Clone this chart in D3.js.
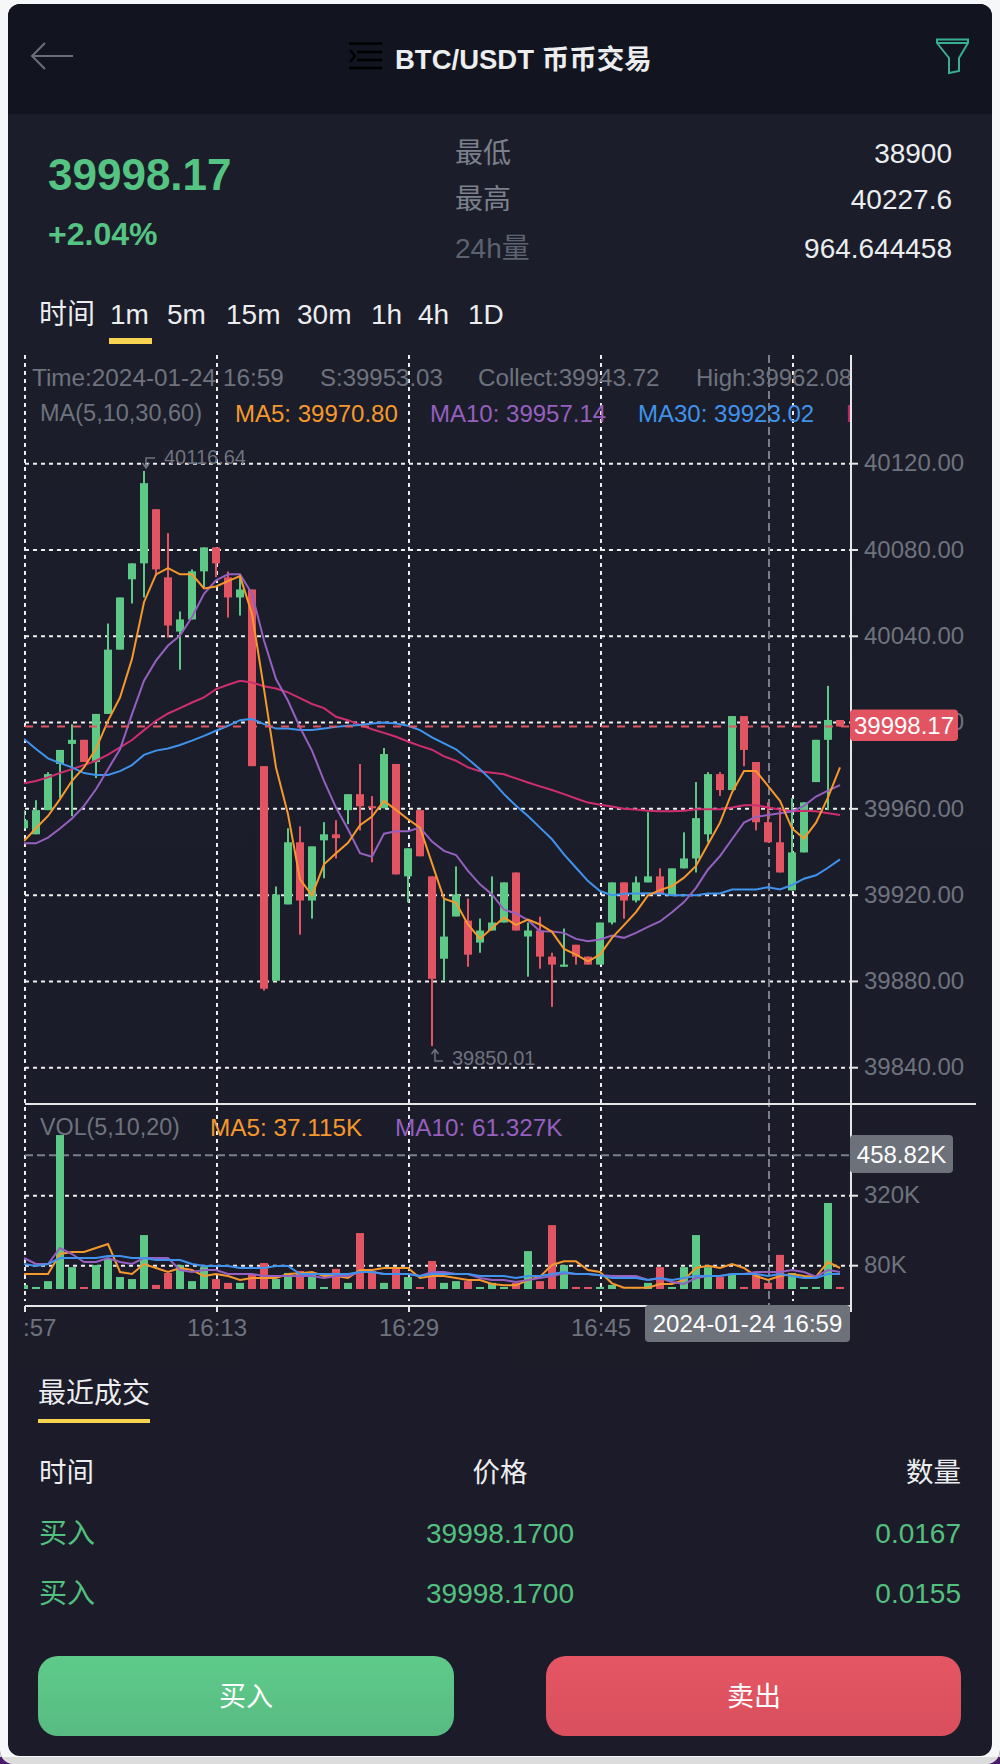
<!DOCTYPE html>
<html>
<head>
<meta charset="utf-8">
<script src="https://cdn.jsdelivr.net/npm/d3@7"></script>
<style>
  html, body { margin: 0; padding: 0; background: #f6f7f9; }
  svg { display: block; }
  text { font-family: "Liberation Sans", "Noto Sans CJK SC", sans-serif; }
  .axis path.domain { display: none; }
</style>
</head>
<body>
<div id="chart"></div>
<script>
// candles (one per minute, from 15:57)
const opens = [39951,39948.2,39959.4,39980.8,39990.1,39992,39981.7,40004,40033.8,40066.4,40073.8,40098.9,40067.3,40042.2,40047.8,40070.1,40081.2,40067.3,40058,40061.7,39979.8,39880.3,39915.7,39944.5,39917.5,39945.4,39948.2,39959.4,39966.8,39961.2,39960.3,39980.8,39928.7,39959.4,39928.7,39890.5,39910.1,39908.2,39898,39903.6,39907.3,39930.5,39900.8,39903.6,39891.5,39886.8,39897,39891.5,39887.8,39907.3,39925.9,39917.5,39925.9,39928.7,39920.3,39932.4,39937,39948.2,39976.1,39968.7,40003,39981.7,39953.8,39944.5,39922.2,39939.8,39972.4,39992,40001.2];
const closes = [39954.7,39959.4,39976.1,39987.3,39992,39981.7,40004,40033.8,40058,40073.8,40111,40071,40045,40047.8,40070.1,40081.2,40073.8,40058,40061.7,39979.8,39876.6,39920.3,39944.5,39917.5,39942.6,39948.2,39946.4,39966.8,39961.2,39960.3,39985.4,39929.6,39941.7,39938,39881.2,39900.8,39920.3,39892.4,39903.6,39907.3,39925.9,39903.6,39903.6,39891.5,39887.8,39887.8,39891.5,39887.8,39907.3,39925.9,39917.5,39925.9,39928.7,39920.3,39932.4,39937,39955.7,39976.1,39968.7,40003,39987.3,39953.8,39944.5,39930.5,39939.8,39963,39992,40001.2,39998.17];
const highs = [39959.4,39964,39977,39987.3,39999.2,39992,40004,40045.9,40058,40073.8,40116.64,40098.9,40087.8,40051.5,40071,40081.2,40081.2,40070,40068.2,40061.7,39979.8,39924,39951,39951.9,39942.6,39953.8,39954.7,39966.8,39980.8,39965.9,39988.2,39980.8,39941.7,39959.4,39928.7,39918,39933.3,39918.4,39909.1,39928.7,39925.9,39930.5,39907.3,39910,39893.3,39904.5,39897,39891.5,39907.3,39925.9,39925.9,39928.7,39958.4,39932.4,39932.4,39949.1,39972.4,39977,39977,40003,40003,39981.7,39963,39959.4,39965,39963,39992,40017,40001.2];
const lows = [39951,39948.2,39959.4,39965,39956.6,39981.7,39974.3,40004,40033.8,40055.2,40058,40068,40039.4,40024.5,40047.8,40062.6,40067.4,40048.7,40049.6,39979.8,39875.7,39880.3,39915.7,39901.7,39909.1,39927.8,39937,39952.9,39950,39935.2,39960.3,39929.6,39916.6,39938,39850.01,39880.3,39910.1,39886.8,39893.3,39903.6,39907.3,39903.6,39882.2,39885.9,39868.2,39886.8,39887.8,39887.8,39887.8,39906.4,39909.1,39916.6,39925.9,39920.3,39920.3,39932.4,39930.5,39944.5,39966,39968.7,39979.8,39950,39944.5,39930.5,39922.2,39939.8,39972.4,39959.4,39998.17];

// price moving averages
const ma5 = [39945.1,39951,39956.7,39964.5,39973,39979.2,39987.8,40000.8,40011.6,40029.5,40055.8,40068.7,40071.6,40068.7,40068.7,40062.2,40063.1,40065.6,40067.9,40050.4,40015.5,39979.2,39957.5,39927.3,39919.9,39934.3,39939.4,39944.3,39952.4,39956.4,39963.7,39959.5,39955.2,39951.3,39934.7,39918.3,39916.4,39906.4,39899.7,39904.8,39909.6,39906.2,39908.7,39906.4,39903,39895.1,39892.4,39889.3,39892.4,39900.2,39906.1,39912.1,39919.9,39922.3,39924.2,39928.1,39933.5,39943.6,39953.6,39967.6,39977.5,39977.5,39970.7,39963.7,39950.9,39946.2,39953.6,39965.3,39979.2];
const ma10 = [39944,39944,39946.7,39950.9,39955.5,39961.4,39969.1,39978.4,39987.6,40003.9,40019.4,40028.7,40035.7,40040.3,40048.9,40059.7,40065.9,40068.7,40068.7,40059.7,40038,40020.2,40010.1,39997.7,39987,39973,39960.6,39950.5,39939.4,39937.8,39948.5,39949.6,39949.6,39951.3,39944.8,39940.5,39938.6,39931.2,39925,39920.3,39913.3,39911.5,39908.4,39903.3,39903.1,39902.5,39899.7,39898.6,39899.4,39901.3,39900.2,39902.5,39905.3,39907.8,39912.1,39916.8,39923.4,39931.9,39938.1,39945.9,39953.6,39956.3,39957.1,39958,39958.8,39961.4,39965.7,39968.4,39971];
const ma30 = [39992.4,39987.7,39983.4,39981.2,39979.2,39976.6,39975.7,39975.7,39977.5,39980.3,39985,39987,39988,39989.6,39991.6,39993.8,39996.2,39998.5,40001.1,40001.7,39999.3,39997.2,39997.2,39996.5,39996.5,39997.2,39998,39998.5,39998.9,39999.6,40000,39999.6,39998.5,39996.5,39993.1,39990.3,39987.6,39983.1,39978.4,39973,39966.8,39961.4,39956.7,39951.3,39945.9,39938.9,39932.7,39926.5,39921.9,39920,39920.6,39920.8,39920.9,39920.8,39920,39919.9,39919.9,39920.8,39920.8,39922.6,39922.6,39922.6,39923.7,39922.6,39924.7,39927.6,39929.2,39932.7,39936.6];
const ma60 = [39971.9,39972.9,39974.6,39976.6,39978.4,39980.3,39982.3,39985.1,39988.5,39991.9,39996.5,40000.8,40004.2,40006.7,40009.3,40011.7,40015.5,40017.5,40019.4,40018.6,40016.8,40015.8,40014,40011.3,40008.6,40006.7,40002.7,40001.1,39998.9,39996.9,39995.2,39993.4,39991.2,39989.2,39987.4,39984.3,39982.3,39979.2,39977.4,39976.7,39976,39974.1,39972.2,39970.4,39968.7,39966.8,39964.8,39962.9,39961.9,39961.1,39960,39959.7,39959.1,39958.9,39958.9,39959.1,39959.8,39959.8,39959.8,39960.6,39961.7,39961.7,39960.6,39959.7,39958.9,39959.1,39958.9,39958,39957.1];

// volume in K, and its moving averages
const volumes = [13.7,7,27,528,75,7,82,103,41,34,185,14,55,82,27,75,34,21,21,48,89,34,55,62,48,7,69,21,192,62,21,75,41,7,96,21,27,27,7,21,7,21,130,27,219,82,7,7,7,14,1,1,21,75,7,75,185,75,41,48,7,48,21,117,55,7,7,295,7];
const volMa5 = [51.4,51.4,51.4,120,126.9,126.9,140.6,154.3,58.3,51.4,85.7,72,58.3,72,65.1,44.6,51.4,44.6,30.9,37.7,37.7,37.7,51.4,53.7,58.3,44.6,44.6,37.7,65.1,65.1,72,72,72,37.7,44.6,44.6,37.7,30.9,30.9,17.1,12.6,12.6,30.9,42.3,82.3,94.9,94.9,65.1,58.3,19.4,4.6,4.6,4.6,17.1,17.1,30.9,72,80,72,85.7,72,44.6,30.9,44.6,51.4,44.6,42.3,92.6,72];
const volMa10 = [106.3,85.7,85.7,140.6,120,92.6,92.6,106.3,92.6,85.7,106.3,106.3,106.3,65.1,58.3,65.1,65.1,51.4,51.4,51.4,44.6,44.6,44.6,44.6,44.6,37.7,44.6,44.6,58.3,58.3,51.4,51.4,51.4,44.6,58.3,58.3,51.4,51.4,37.7,30.9,30.9,24,30.9,37.7,44.6,53.7,51.4,51.4,46.9,44.6,44.6,44.6,30.9,37.7,24,17.1,37.7,44.6,44.6,51.4,51.4,58.3,58.3,58.3,65.1,58.3,42.3,65.1,58.3];
const volMa20 = [85.7,78.9,85.7,106.3,106.3,106.3,106.3,113.1,113.1,106.3,106.3,99.4,99.4,99.4,85.7,78.9,78.9,78.9,72,72,72,78.9,78.9,51.4,51.4,51.4,51.4,51.4,58.3,58.3,51.4,51.4,51.4,44.6,51.4,51.4,51.4,51.4,44.6,44.6,44.6,37.7,44.6,44.6,51.4,58.3,51.4,51.4,46.9,37.7,37.7,37.7,30.9,37.7,30.9,37.7,44.6,44.6,44.6,51.4,51.4,51.4,44.6,51.4,44.6,37.7,37.7,51.4,51.4];

// ticks
const priceTicks = [40120, 40080, 40040, 40000, 39960, 39920, 39880, 39840];
const volTicks = [320, 80];
const timeTickIdx = [0, 16, 32, 48, 64];
const timeTickLabels = [":57", "16:13", "16:29", "16:45"];

const lastPrice = 39998.17;
const crosshairIdx = 62;
const crosshairVol = 458.82;

// text panels
const statLabels = ["最低", "最高", "24h量"];
const statValues = ["38900", "40227.6", "964.644458"];
const periods = ["时间", "1m", "5m", "15m", "30m", "1h", "4h", "1D"];
const tradeHead = ["时间", "价格", "数量"];
const tradeRows = [["买入", "39998.1700", "0.0167"], ["买入", "39998.1700", "0.0155"]];

const GREEN = "#5ec887", RED = "#e25461", GREY = "#6e737e", WHITE = "#ecedef", TEXT_GREEN = "#55c382";
const YELLOW = "#f8d34f", ORANGE = "#f5982d", PURPLE = "#9560bf", BLUE = "#3f93ec", PINK = "#cf2e6e";

const svg = d3.select("#chart").append("svg").attr("width", 1000).attr("height", 1764);

const defs = svg.append("defs");
defs.append("clipPath").attr("id", "plot").append("rect")
  .attr("x", 24).attr("y", 355).attr("width", 827).attr("height", 951);
defs.append("clipPath").attr("id", "legend").append("rect")
  .attr("x", 0).attr("y", 355).attr("width", 850).attr("height", 100);
function gradient(id, a, b) {
  const g = defs.append("linearGradient").attr("id", id).attr("x1", 0).attr("x2", 0).attr("y1", 0).attr("y2", 1);
  g.append("stop").attr("offset", "0%").attr("stop-color", a);
  g.append("stop").attr("offset", "100%").attr("stop-color", b);
}
gradient("buyFill", "#5ecb8a", "#58bb82");
gradient("sellFill", "#e55664", "#d94f5d");
gradient("cardFill", "#1b1e2a", "#1c1b29");

// window corners, page and card
svg.append("rect").attr("y", 1740).attr("width", 1000).attr("height", 24).attr("fill", "#4a1a6e");
svg.append("rect").attr("x", 0).attr("y", -30).attr("width", 1000).attr("height", 1794).attr("rx", 14).attr("fill", "#f6f7f9");
svg.append("path").attr("d", "M0,1757H1000V1750a14,14 0 0 1 -14,14H14a14,14 0 0 1 -14,-14Z").attr("fill", "#dcdcdc");
svg.append("rect").attr("x", 8).attr("y", 4).attr("width", 984).attr("height", 1752).attr("rx", 12).attr("fill", "url(#cardFill)");
svg.append("path").attr("d", "M8,114V16a12,12 0 0 1 12,-12H980a12,12 0 0 1 12,12V114Z").attr("fill", "#12151f");

function label(t, x, y, size, fill, anchor, weight) {
  return svg.append("text").attr("x", x).attr("y", y).attr("dy", "0.36em")
    .attr("font-size", size).attr("fill", fill)
    .attr("text-anchor", anchor || "start").attr("font-weight", weight || "normal").text(t);
}

// header icons
svg.append("path").attr("d", "M73,56H33M45,43L32,56L45,69").attr("fill", "none").attr("stroke", "#6a6e78").attr("stroke-width", 2);
svg.append("path").attr("d", "M349,43.5H382M349,68H382M357,52H382M357,60H382M350,50L355,56L350,62")
  .attr("fill", "none").attr("stroke", "#000").attr("stroke-width", 2.5);
svg.append("path").attr("d", "M937,39.5H968V43L959,58V71L949,73V58L937,43ZM937,43H968")
  .attr("fill", "none").attr("stroke", "#3aae95").attr("stroke-width", 2);
label("BTC/USDT 币币交易", 395, 59, 27.5, WHITE, "start", "bold");

// price block
label("39998.17", 48, 174, 44, TEXT_GREEN, "start", "bold");
label("+2.04%", 48, 233, 32, TEXT_GREEN, "start", "bold");
const statY = [153, 199, 248];
statLabels.forEach((t, i) => label(t, 455, statY[i], 28, i === 2 ? "#5d6270" : "#7b808c"));
statValues.forEach((t, i) => label(t, 952, statY[i], 28, WHITE, "end"));

// period tabs
const periodX = [39, 110, 167, 226, 297, 371, 418, 468];
periods.forEach((t, i) => label(t, periodX[i], 314, 28, WHITE));
svg.append("rect").attr("x", 109).attr("y", 338).attr("width", 43).attr("height", 6).attr("fill", YELLOW);

// scales
const x = d3.scaleLinear().domain([0, opens.length - 1]).range([24, 840]);
const y = d3.scaleLinear().domain([39840, 40120]).range([1067.7, 463.7]);
const yVol = d3.scaleLinear().domain([0, 320]).range([1289, 1195.7]);

// grid
const grid = svg.append("g").attr("fill", "none").attr("stroke", "#eeeeee").attr("stroke-width", 2).attr("stroke-dasharray", "4 4");
grid.selectAll("line.v").data(timeTickIdx).join("line").attr("class", "v")
  .attr("x1", d => x(d) + 1).attr("x2", d => x(d) + 1).attr("y1", 355).attr("y2", 1301);
grid.selectAll("line.h").data(priceTicks).join("line").attr("class", "h")
  .attr("x1", 25).attr("x2", 851).attr("y1", d => y(d)).attr("y2", d => y(d));
grid.selectAll("line.hv").data(volTicks).join("line").attr("class", "hv")
  .attr("x1", 25).attr("x2", 851).attr("y1", d => yVol(d)).attr("y2", d => yVol(d));

// crosshair (grey dashes, behind the marks)
svg.append("line").attr("x1", x(crosshairIdx) + 1).attr("x2", x(crosshairIdx) + 1).attr("y1", 355).attr("y2", 1306)
  .attr("stroke", "#7a7f8b").attr("stroke-width", 2).attr("stroke-dasharray", "8 4");
svg.append("line").attr("x1", 25).attr("x2", 851).attr("y1", yVol(crosshairVol)).attr("y2", yVol(crosshairVol))
  .attr("stroke", "#7a7f8b").attr("stroke-width", 2).attr("stroke-dasharray", "8 4");

const idx = d3.range(opens.length);
const isUp = i => closes[i] >= opens[i];
const plot = svg.append("g").attr("clip-path", "url(#plot)");

// candles
plot.selectAll("rect.wick").data(idx).join("rect").attr("class", "wick")
  .attr("x", i => x(i) - 1).attr("width", 2)
  .attr("y", i => y(highs[i])).attr("height", i => y(lows[i]) - y(highs[i]))
  .attr("fill", i => isUp(i) ? GREEN : RED);
plot.selectAll("rect.body").data(idx).join("rect").attr("class", "body")
  .attr("x", i => x(i) - 4).attr("width", 8)
  .attr("y", i => y(Math.max(opens[i], closes[i])))
  .attr("height", i => Math.max(2, Math.abs(y(opens[i]) - y(closes[i]))))
  .attr("fill", i => isUp(i) ? GREEN : RED);

// volume bars
plot.selectAll("rect.vol").data(idx).join("rect").attr("class", "vol")
  .attr("x", i => x(i) - 4).attr("width", 8)
  .attr("y", i => yVol(volumes[i])).attr("height", i => yVol(0) - yVol(volumes[i]))
  .attr("fill", i => isUp(i) ? GREEN : RED);

// moving average lines
const priceLine = d3.line().x((d, i) => x(i)).y(d => y(d));
const volLine = d3.line().x((d, i) => x(i)).y(d => yVol(d));
[[ma60, PINK], [ma30, BLUE], [ma10, PURPLE], [ma5, ORANGE]].forEach(([s, c]) => {
  plot.append("path").attr("d", priceLine(s)).attr("fill", "none").attr("stroke", c).attr("stroke-width", 2);
});
[[volMa5, ORANGE], [volMa10, PURPLE], [volMa20, BLUE]].forEach(([s, c]) => {
  plot.append("path").attr("d", volLine(s)).attr("fill", "none").attr("stroke", c).attr("stroke-width", 2);
});

// last price line
svg.append("line").attr("x1", 25).attr("x2", 851).attr("y1", y(lastPrice)).attr("y2", y(lastPrice))
  .attr("stroke", RED).attr("stroke-width", 2).attr("stroke-dasharray", "8 8");

// max / min markers
const maxIdx = highs.indexOf(d3.max(highs)), minIdx = lows.indexOf(d3.min(lows));
svg.append("path").attr("d", "M155,458H146V467M142.5,463L146,468L149.5,463").attr("fill", "none").attr("stroke", GREY).attr("stroke-width", 1.5);
label(d3.format(".2f")(highs[maxIdx]), x(maxIdx) + 20, y(highs[maxIdx]) - 14, 20, GREY);
svg.append("path").attr("d", "M443,1061H435V1050M431.5,1054L435,1049.5L438.5,1054").attr("fill", "none").attr("stroke", GREY).attr("stroke-width", 1.5);
label(d3.format(".2f")(lows[minIdx]), x(minIdx) + 20, y(lows[minIdx]) + 12, 20, GREY);

// axes
const yAxis = d3.axisRight(y).tickValues(priceTicks).tickSize(7).tickPadding(6).tickFormat(d3.format(".2f")).offset(0);
svg.append("g").attr("class", "axis").attr("transform", "translate(851,0)").call(yAxis);
const yVolAxis = d3.axisRight(yVol).tickValues(volTicks).tickSize(7).tickPadding(6).tickFormat(d => d + "K").offset(0);
svg.append("g").attr("class", "axis").attr("transform", "translate(851,0)").call(yVolAxis);
const xAxis = d3.axisBottom(x).tickValues(timeTickIdx.slice(0, 4)).tickSize(6).tickPadding(7)
  .tickFormat((d, i) => timeTickLabels[i]).offset(0);
const xAxisG = svg.append("g").attr("class", "axis").attr("transform", "translate(1,1306)").call(xAxis);
xAxisG.selectAll(".tick text").filter((d, i) => i === 0).attr("text-anchor", "start").attr("dx", -2);
svg.selectAll(".axis text").attr("font-size", 24).attr("fill", GREY).style("font-family", '"Liberation Sans", sans-serif');
svg.selectAll(".axis line").attr("stroke", "#e6e6e6").attr("stroke-width", 2);

// axis frame lines
svg.append("line").attr("x1", 851).attr("x2", 851).attr("y1", 355).attr("y2", 1312).attr("stroke", "#e6e6e6").attr("stroke-width", 2);
svg.append("line").attr("x1", 25).attr("x2", 976).attr("y1", 1104).attr("y2", 1104).attr("stroke", "#e6e6e6").attr("stroke-width", 2);
svg.append("line").attr("x1", 25).attr("x2", 851).attr("y1", 1306).attr("y2", 1306).attr("stroke", "#e6e6e6").attr("stroke-width", 2);

// top legends
label("Time:2024-01-24 16:59", 32, 377, 24.3, GREY);
label("S:39953.03", 320, 377, 24, GREY);
label("Collect:39943.72", 478, 377, 24.2, GREY);
const legendG = svg.append("g").attr("clip-path", "url(#legend)");
function legend(t, xPos, yPos, fill, size) {
  legendG.append("text").attr("x", xPos).attr("y", yPos).attr("dy", "0.36em").attr("font-size", size || 24).attr("fill", fill).text(t);
}
legend("High:39962.08", 696, 377, GREY);
legend("MA(5,10,30,60)", 40, 413, GREY, 23.5);
legend("MA5: 39970.80", 235, 413, ORANGE);
legend("MA10: 39957.14", 430, 413, PURPLE);
legend("MA30: 39923.02", 638, 413, BLUE);
legend("MA60", 846, 413, PINK);

// volume legend
label("VOL(5,10,20)", 40, 1127, 23.3, GREY);
label("MA5: 37.115K", 210, 1127, 24.3, ORANGE);
label("MA10: 61.327K", 395, 1127, 24.3, PURPLE);

// value tags
function tag(t, x0, x1, y0, y1, fill) {
  svg.append("rect").attr("x", x0).attr("y", y0).attr("width", x1 - x0).attr("height", y1 - y0).attr("rx", 4).attr("fill", fill);
  label(t, (x0 + x1) / 2, (y0 + y1) / 2, 24, "#fff", "middle");
}
tag("39998.17", 850, 958, 709.5, 741, RED);
tag("458.82K", 850, 953, 1135, 1173, "#6d717a");
tag("2024-01-24 16:59", 645, 850, 1305, 1342, "#6d717a");

// recent trades
label("最近成交", 38, 1393, 28, WHITE);
svg.append("rect").attr("x", 38).attr("y", 1419).attr("width", 112).attr("height", 4).attr("fill", YELLOW);
const colX = [39, 500, 961], colAnchor = ["start", "middle", "end"];
tradeHead.forEach((t, i) => label(t, colX[i], 1472, 27.5, WHITE, colAnchor[i]));
const rowY = [1533, 1593];
tradeRows.forEach((row, r) => row.forEach((t, i) => label(t, colX[i], rowY[r], 28, "#52c07e", colAnchor[i])));

// buttons
svg.append("rect").attr("x", 38).attr("y", 1656).attr("width", 416).attr("height", 80).attr("rx", 20).attr("fill", "url(#buyFill)");
svg.append("rect").attr("x", 546).attr("y", 1656).attr("width", 415).attr("height", 80).attr("rx", 20).attr("fill", "url(#sellFill)");
label("买入", 246, 1696, 27, "#fff", "middle");
label("卖出", 754, 1696, 27, "#fff", "middle");
</script>
</body>
</html>
